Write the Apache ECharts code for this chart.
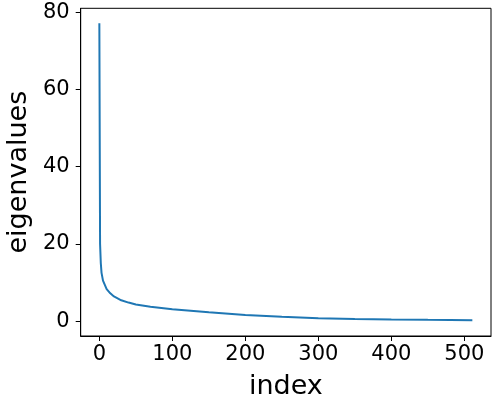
<!DOCTYPE html>
<html>
<head>
<meta charset="utf-8">
<script src="https://cdn.jsdelivr.net/npm/echarts@6/dist/echarts.min.js"></script>
<style>
  html, body { margin: 0; padding: 0; background: #fff; }
  #main { width: 500px; height: 400px; }
</style>
</head>
<body>
<div id="main"></div>
<script>
// sorted eigenvalues at a few indices
var indices = [0, 1, 2, 3, 5, 10, 15, 20, 30, 40, 50, 70, 100, 150, 200, 250, 300, 350, 400, 450, 511]
var eigenvalues = [77.2, 20, 15, 12.5, 10.5, 8.3, 7.2, 6.4, 5.4, 4.8, 4.3, 3.7, 3.1, 2.3, 1.6, 1.1, 0.75, 0.55, 0.42, 0.33, 0.25]
var xTicks = [0, 100, 200, 300, 400, 500]
var yTicks = [0, 20, 40, 60, 80]

var points = indices.map(function (x, i) { return [x, eigenvalues[i]] })

var font = 'DejaVu Sans'
var chart = echarts.init(document.getElementById('main'))
chart.setOption({
  animation: false,
  grid: {
    left: 80.7,
    right: 9,
    top: 8.3,
    bottom: 64,
    outerBoundsMode: 'none',
    show: true,
    borderColor: '#000',
    borderWidth: 1
  },
  xAxis: {
    type: 'value',
    min: -25.55,
    max: 536.55,
    name: 'index',
    nameLocation: 'middle',
    nameGap: 37,
    nameTextStyle: { fontFamily: font, fontSize: 27, color: '#000' },
    axisLine: { onZero: false, lineStyle: { color: '#000', width: 1 } },
    axisTick: { length: 5, lineStyle: { color: '#000' }, customValues: xTicks },
    axisLabel: { fontFamily: font, fontSize: 21, color: '#000', margin: 8, customValues: xTicks },
    splitLine: { show: false }
  },
  yAxis: {
    type: 'value',
    min: -3.86,
    max: 81.06,
    name: 'eigenvalues',
    nameLocation: 'middle',
    nameGap: 46,
    nameTextStyle: { fontFamily: font, fontSize: 27, color: '#000' },
    axisLine: { show: true, onZero: false, lineStyle: { color: '#000', width: 1 } },
    axisTick: { show: true, length: 5, lineStyle: { color: '#000' }, customValues: yTicks },
    axisLabel: { fontFamily: font, fontSize: 21, color: '#000', margin: 11, customValues: yTicks },
    splitLine: { show: false }
  },
  series: [
    {
      type: 'line',
      data: points,
      showSymbol: false,
      smooth: false,
      lineStyle: { color: '#1f77b4', width: 2 }
    }
  ]
})
</script>
</body>
</html>
